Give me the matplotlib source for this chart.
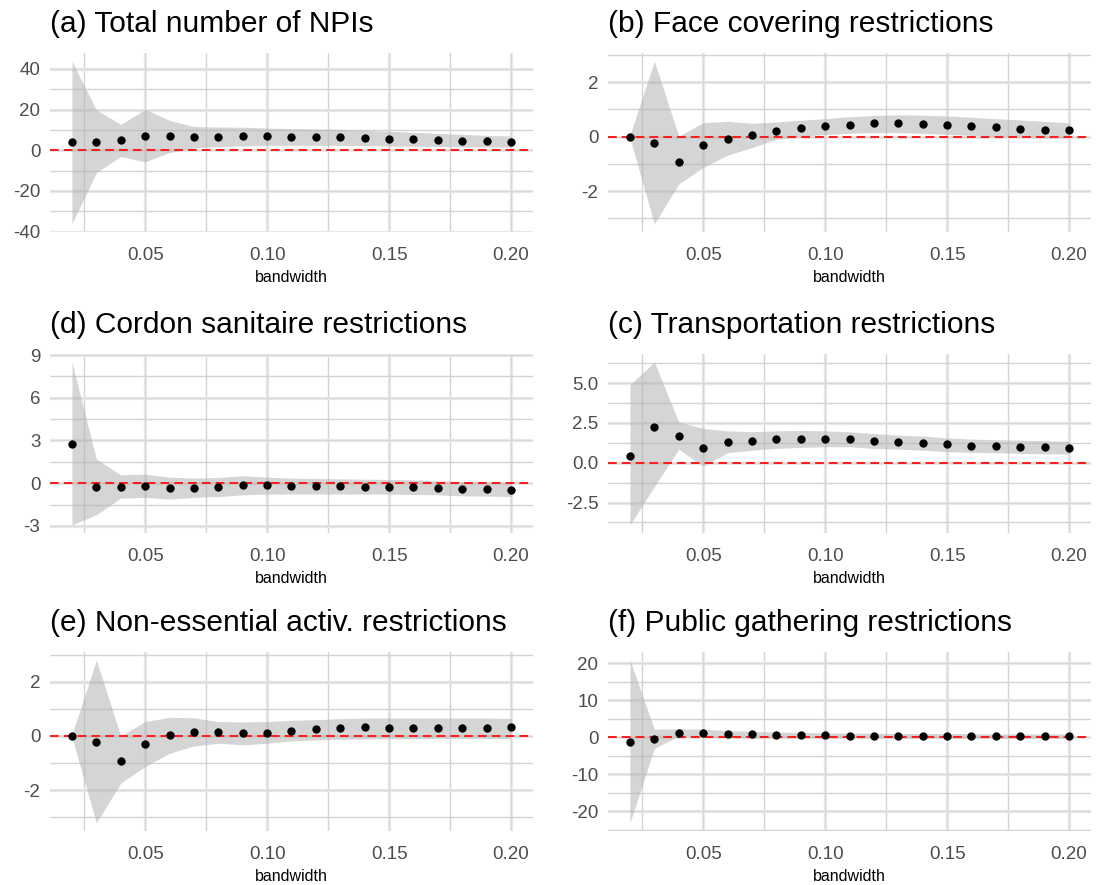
import matplotlib.pyplot as plt
from matplotlib.ticker import MultipleLocator, FormatStrFormatter

# -- data: point estimates and confidence band per bandwidth
bandwidth = [0.02, 0.03, 0.04, 0.05, 0.06, 0.07, 0.08, 0.09, 0.10, 0.11,
             0.12, 0.13, 0.14, 0.15, 0.16, 0.17, 0.18, 0.19, 0.20]

# (a) Total number of NPIs
npi_est = [3.8, 4.2, 5.1, 7.0, 6.9, 6.4, 6.5, 6.9, 6.9, 6.5, 6.5, 6.5, 6.0, 5.7, 5.4, 5.1, 4.7, 4.4, 4.2]
npi_hi = [43.8, 19.8, 12.7, 20.1, 14.7, 11.6, 11.4, 11.3, 10.9, 10.6, 10.4, 10.3, 9.8, 9.3, 8.8, 8.3, 7.8, 7.3, 7.0]
npi_lo = [-36.2, -10.9, -3.1, -5.7, -1.1, 1.1, 1.8, 2.1, 2.4, 2.4, 2.4, 2.4, 2.3, 2.1, 2.0, 1.8, 1.6, 1.6, 1.5]

# (b) Face covering restrictions
face_est = [0.0, -0.22, -0.93, -0.32, -0.07, 0.05, 0.21, 0.30, 0.39, 0.43, 0.49, 0.49, 0.46, 0.43, 0.39, 0.34,
            0.29, 0.26, 0.23]
face_hi = [0.05, 2.77, 0.02, 0.51, 0.56, 0.49, 0.54, 0.60, 0.66, 0.73, 0.78, 0.80, 0.79, 0.76, 0.71, 0.66,
           0.61, 0.56, 0.51]
face_lo = [-0.05, -3.2, -1.74, -1.13, -0.68, -0.40, -0.10, 0.02, 0.08, 0.12, 0.15, 0.15, 0.12, 0.08, 0.05, 0.01,
           -0.01, -0.04, -0.06]

# (d) Cordon sanitaire restrictions
cordon_est = [2.75, -0.28, -0.26, -0.19, -0.37, -0.33, -0.26, -0.12, -0.14, -0.21, -0.21, -0.23, -0.26, -0.26,
              -0.28, -0.33, -0.40, -0.42, -0.47]
cordon_hi = [8.5, 1.69, 0.59, 0.63, 0.42, 0.35, 0.40, 0.52, 0.42, 0.35, 0.33, 0.30, 0.28, 0.26, 0.23, 0.16,
             0.12, 0.07, 0.0]
cordon_lo = [-2.93, -2.22, -1.05, -1.0, -1.12, -1.0, -0.94, -0.82, -0.77, -0.77, -0.77, -0.77, -0.77, -0.77,
             -0.8, -0.82, -0.89, -0.91, -0.94]

# (c) Transportation restrictions
transp_est = [0.42, 2.21, 1.67, 0.94, 1.31, 1.35, 1.46, 1.48, 1.46, 1.48, 1.35, 1.29, 1.25, 1.15, 1.06, 1.04,
              1.0, 0.96, 0.94]
transp_hi = [4.9, 6.31, 2.56, 2.15, 2.0, 1.94, 2.0, 2.02, 2.0, 1.94, 1.83, 1.73, 1.67, 1.56, 1.48, 1.44,
             1.42, 1.38, 1.35]
transp_lo = [-3.9, -1.5, 0.85, -0.21, 0.63, 0.79, 0.9, 0.96, 1.0, 1.0, 0.9, 0.85, 0.79, 0.69, 0.65, 0.63,
             0.58, 0.56, 0.54]

# (e) Non-essential activ. restrictions
noness_est = [0.0, -0.21, -0.92, -0.31, 0.04, 0.16, 0.15, 0.10, 0.10, 0.20, 0.25, 0.28, 0.32, 0.31, 0.29, 0.31,
              0.31, 0.31, 0.32]
noness_hi = [0.05, 2.8, 0.0, 0.53, 0.69, 0.67, 0.53, 0.52, 0.53, 0.58, 0.60, 0.64, 0.66, 0.66, 0.66, 0.66,
             0.66, 0.66, 0.65]
noness_lo = [-0.05, -3.21, -1.74, -1.13, -0.64, -0.37, -0.27, -0.33, -0.27, -0.18, -0.15, -0.12, -0.11, -0.10,
             -0.10, -0.09, -0.09, -0.09, -0.09]

# (f) Public gathering restrictions
gather_est = [-1.2, -0.5, 1.26, 1.08, 1.0, 0.8, 0.72, 0.63, 0.54, 0.45, 0.45, 0.45, 0.36, 0.36, 0.36, 0.36,
              0.36, 0.36, 0.36]
gather_hi = [20.9, 2.2, 2.3, 2.2, 1.8, 1.6, 1.4, 1.3, 1.2, 1.1, 1.1, 1.0, 1.0, 1.0, 1.0, 0.9, 0.9, 0.9, 0.9]
gather_lo = [-23.2, -3.0, 0.36, 0.0, -0.1, -0.15, -0.2, -0.2, -0.2, -0.2, -0.2, -0.25, -0.25, -0.25, -0.25,
             -0.25, -0.27, -0.27, -0.27]

titles = ['(a) Total number of NPIs', '(b) Face covering restrictions',
          '(d) Cordon sanitaire restrictions', '(c) Transportation restrictions',
          '(e) Non-essential activ. restrictions', '(f) Public gathering restrictions']

## ---------------------------------------------------------------------------------------------
## plotting (ggplot theme_minimal look)
## ---------------------------------------------------------------------------------------------

plt.rcParams['font.family'] = ['Liberation Sans', 'DejaVu Sans']
plt.rcParams['axes.unicode_minus'] = False

W, H = 1096, 885
fig = plt.figure(figsize=(W / 100, H / 100), dpi=100)

panels = [(npi_est, npi_lo, npi_hi, 20, '%d'),
          (face_est, face_lo, face_hi, 2, '%d'),
          (cordon_est, cordon_lo, cordon_hi, 3, '%d'),
          (transp_est, transp_lo, transp_hi, 2.5, '%.1f'),
          (noness_est, noness_lo, noness_hi, 2, '%d'),
          (gather_est, gather_lo, gather_hi, 10, '%d')]

# panel boxes in pixels: left, top, width, height
col_left = [50, 608]
row_top = [53, 354, 652]
pw, ph = 483, 179

for i, (est, lo, hi, step, fmt) in enumerate(panels):
    left = col_left[i % 2]
    top = row_top[i // 2]
    ax = fig.add_axes([left / W, 1 - (top + ph) / H, pw / W, ph / H])

    # ggplot-like 5% expansion
    ymin = min(min(lo), min(est))
    ymax = max(max(hi), max(est))
    yr = ymax - ymin
    ax.set_ylim(ymin - 0.05 * yr, ymax + 0.05 * yr)
    ax.set_xlim(0.02 - 0.009, 0.20 + 0.009)

    ax.fill_between(bandwidth, lo, hi, color='#b3b3b3', alpha=0.55, lw=0, zorder=2)
    ax.axhline(0, color='#ff1a1a', lw=1.4, dashes=(4.5, 2.6), zorder=3)
    ax.scatter(bandwidth, est, s=36, color='black', lw=0, zorder=4)

    ax.xaxis.set_major_locator(MultipleLocator(0.05))
    ax.xaxis.set_minor_locator(MultipleLocator(0.025))
    ax.xaxis.set_major_formatter(FormatStrFormatter('%.2f'))
    ax.yaxis.set_major_locator(MultipleLocator(step))
    ax.yaxis.set_minor_locator(MultipleLocator(step / 2))
    ax.yaxis.set_major_formatter(FormatStrFormatter(fmt))

    # wide light major lines with a thin darker core, thinner minor lines
    ax.grid(which='major', color='#e8e8e8', lw=2.4, zorder=0)
    ax.grid(which='minor', color='#d3d3d3', lw=1.0, zorder=0)
    ax.set_axisbelow(True)
    x0, x1 = ax.get_xlim()
    y0, y1 = ax.get_ylim()
    for v in ax.get_yticks():
        if y0 <= v <= y1:
            ax.axhline(v, color='#d6d6d6', lw=0.6, zorder=1)
    for v in ax.get_xticks():
        if x0 <= v <= x1:
            ax.axvline(v, color='#d6d6d6', lw=0.6, zorder=1)

    for s in ax.spines.values():
        s.set_visible(False)
    ax.tick_params(which='both', length=0)
    ax.tick_params(axis='x', pad=11, labelsize=13.5, labelcolor='#4d4d4d')
    ax.tick_params(axis='y', pad=7, labelsize=13.5, labelcolor='#4d4d4d')

    ax.set_xlabel('bandwidth', fontsize=11.5, labelpad=4)
    ax.set_title(titles[i], loc='left', fontsize=21.5, pad=15)

plt.savefig('out.png', dpi=100)
